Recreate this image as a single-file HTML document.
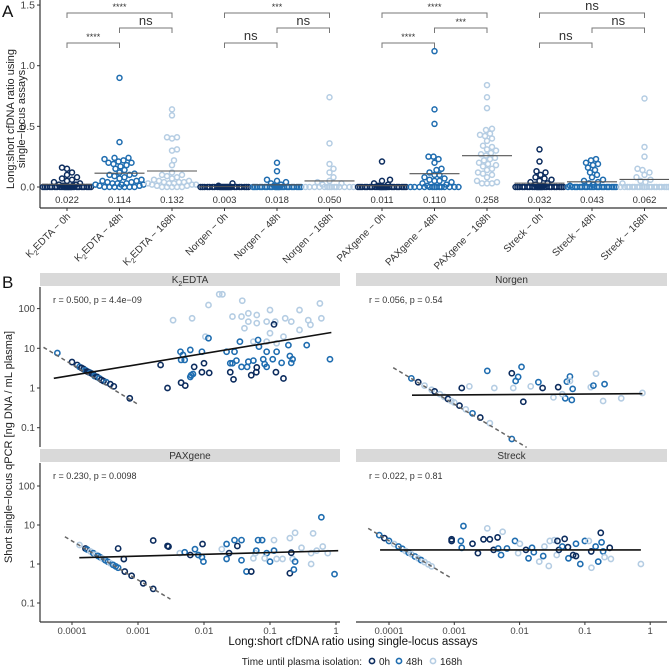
<!DOCTYPE html>
<html><head><meta charset="utf-8"><style>
body{margin:0;background:#fff}
svg{display:block;font-family:"Liberation Sans",sans-serif}
</style></head><body>
<svg id="fig" width="669" height="668" viewBox="0 0 669 668">
<text x="2" y="17" font-size="17" fill="#111">A</text>
<text x="2" y="288" font-size="17" fill="#111">B</text>
<g id="A"></g>
<g id="B"></g>
</svg>
<script>
// ---------- Panel A data ----------
const catsA = ["0h","48h","168h","0h","48h","168h","0h","48h","168h","0h","48h","168h"];
const tubesA = ["K2EDTA","K2EDTA","K2EDTA","Norgen","Norgen","Norgen","PAXgene","PAXgene","PAXgene","Streck","Streck","Streck"];
const meansA = [0.022,0.114,0.132,0.003,0.018,0.050,0.011,0.110,0.258,0.032,0.043,0.062];
const meanLabelsA = ["0.022","0.114","0.132","0.003","0.018","0.050","0.011","0.110","0.258","0.032","0.043","0.062"];
const yTicksA = [0,0.5,1.0,1.5];
const yTickLabelsA = ["0.0","0.5","1.0","1.5"];
const valsA = [
 [0.16,0.15,0.12,0.1,0.08,0.07,0.06,0.05,0.04,0.03,0.02,0.02,0.01,0.01,0,0,0,0,0,0,0,0,0,0,0,0,0,0,0,0,0,0,0,0,0,0,0,0,0,0],
 [0.9,0.37,0.24,0.24,0.23,0.22,0.21,0.2,0.2,0.19,0.18,0.17,0.15,0.14,0.12,0.11,0.1,0.1,0.09,0.08,0.07,0.06,0.05,0.05,0.04,0.04,0.03,0.03,0.03,0.02,0.02,0.02,0.01,0.01,0,0,0,0,0,0,0],
 [0.64,0.59,0.41,0.41,0.40,0.31,0.3,0.22,0.18,0.12,0.1,0.1,0.09,0.08,0.07,0.06,0.05,0.05,0.04,0.04,0.04,0.03,0.03,0.03,0.02,0.02,0.02,0.01,0.01,0,0,0,0,0],
 [0.03,0.01,0,0,0,0,0,0,0,0,0,0,0,0,0,0,0,0,0,0,0,0,0,0,0,0,0,0,0,0],
 [0.2,0.13,0.06,0.05,0.04,0.03,0.02,0.01,0,0,0,0,0,0,0,0,0,0,0,0,0,0,0,0,0,0,0,0,0,0,0,0],
 [0.74,0.36,0.19,0.15,0.12,0.08,0.05,0.04,0.03,0.02,0,0,0,0,0,0,0,0,0,0,0,0,0,0],
 [0.21,0.06,0.05,0.03,0.02,0.01,0,0,0,0,0,0,0,0,0,0,0,0,0,0,0,0,0,0,0,0,0,0,0,0,0,0],
 [1.12,0.64,0.52,0.25,0.25,0.23,0.2,0.15,0.14,0.12,0.1,0.1,0.08,0.07,0.06,0.05,0.05,0.04,0.03,0.02,0.01,0,0,0,0,0,0,0,0,0,0,0,0,0,0],
 [0.84,0.74,0.65,0.48,0.47,0.44,0.43,0.42,0.4,0.38,0.34,0.33,0.31,0.3,0.28,0.27,0.26,0.24,0.23,0.22,0.2,0.19,0.18,0.17,0.15,0.14,0.12,0.11,0.1,0.08,0.05,0.04,0.03,0.03,0.03],
 [0.31,0.21,0.13,0.12,0.1,0.08,0.07,0.06,0.05,0.04,0.03,0.02,0.01,0,0,0,0,0,0,0,0,0,0,0,0,0,0,0,0,0,0,0,0,0,0,0,0,0],
 [0.23,0.22,0.2,0.19,0.18,0.16,0.14,0.12,0.1,0.08,0.06,0.05,0.04,0.03,0.02,0.01,0,0,0,0,0,0,0,0,0,0,0,0,0,0,0,0,0,0,0,0],
 [0.73,0.33,0.25,0.15,0.14,0.12,0.1,0.08,0.06,0.05,0.04,0.03,0,0,0,0,0,0,0,0,0,0,0,0,0,0,0,0,0,0,0,0]
];
const bracketPairs = [[0,2],[1,2],[0,1],[3,5],[4,5],[3,4],[6,8],[7,8],[6,7],[9,11],[10,11],[9,10]];
const bracketLabels = ["****","ns","****","***","ns","ns","****","***","****","ns","ns","ns"];

// ---------- Panel B data (facet: K2EDTA, Norgen, PAXgene, Streck) ----------
const facetNames = ["K2EDTA","Norgen","PAXgene","Streck"];
const facetStats = ["r = 0.500, p = 4.4e−09","r = 0.056, p = 0.54","r = 0.230, p = 0.0098","r = 0.022, p = 0.81"];
const xTicksB = [0.0001,0.001,0.01,0.1,1];
const xTickLabelsB = ["0.0001","0.001","0.01","0.1","1"];
const yTicksB = [100,10,1,0.1];
const yTickLabelsB = ["100","10","1","0.1"];
const timeLabels = ["0h","48h","168h"];
// K2EDTA
const k2X = [6e-5,1.0e-4,1.2e-4,1.3e-4,1.4e-4,1.5e-4,1.6e-4,1.7e-4,1.8e-4,1.9e-4,2.0e-4,2.1e-4,2.2e-4,2.4e-4,2.6e-4,2.8e-4,3.0e-4,3.3e-4,3.8e-4,4.3e-4,7.5e-4,
 0.0034,0.0066,0.0117,0.017,0.019,0.0105,0.038,0.027,0.037,0.047,0.047,0.063,0.063,0.1,0.089,0.12,0.17,0.21,0.28,0.38,0.41,0.57,0.6,0.041,0.056,0.089,0.1,0.126,0.16,0.28,
 0.0044,0.0048,0.0045,0.0051,0.0062,0.0093,0.022,0.029,0.035,0.066,0.068,0.089,0.126,0.19,0.2,0.22,0.21,0.15,0.11,0.079,0.083,0.089,0.056,0.047,0.037,0.045,0.027,0.025,0.031,0.0064,0.0062,0.0068,0.36,0.81,0.0117,
 0.0022,0.0028,0.0045,0.0052,0.0071,0.0093,0.01,0.012,0.025,0.028,0.052,0.062,0.063,0.123,0.16,0.115];
const k2Y = [7.6,4.5,3.8,3.4,3.2,3.0,2.8,2.6,2.5,2.4,2.3,2.2,2.0,1.9,1.75,1.6,1.5,1.4,1.25,1.1,0.55,
 51,57,123,229,229,19.6,158,63,63,76,47,69,43,92,47,47,57,47,92,51,39,135,57,32,14.7,14.7,24,13.4,19.6,29,
 8.2,6.8,5.1,5.1,9.1,8.2,8.2,8.2,14.7,16.2,11,8.2,8.2,12,6.4,5.3,4.3,4.3,5.3,5.3,4,3.4,4.9,4.6,3.4,3.4,4.2,4.2,4.9,2.1,1.9,2.25,12,5.3,18,
 3.8,1.0,1.36,1.15,3.4,2.5,4.2,2.4,2.5,1.65,2.1,2.5,3.3,2.5,1.74,40];
const k2T = [1,0,0,1,0,0,1,0,0,1,0,0,1,0,1,0,0,1,0,0,0,
 2,2,2,2,2,2,2,2,2,2,2,2,2,2,2,2,2,2,2,2,2,2,2,2,2,2,2,2,2,2,
 1,1,1,1,1,1,1,1,1,1,1,1,1,1,1,1,1,1,1,1,1,1,1,1,1,1,1,1,1,1,1,1,1,1,1,
 0,0,0,0,0,0,0,0,0,0,0,0,0,0,0,0];
// Norgen
const noX = [2.2e-4,2.8e-4,3.5e-4,4.5e-4,5e-4,6e-4,7e-4,8e-4,9e-4,1.0e-3,1.2e-3,1.5e-3,1.9e-3,2.5e-3,3.5e-3,7.6e-3,
 0.0032,0.0076,0.0107,0.0095,0.0087,0.0013,0.0017,0.0041,0.008,0.0114,0.0148,0.0194,0.0225,0.033,0.039,0.05,0.053,0.059,0.059,0.065,0.063,0.123,0.135,0.148,0.2,0.19,0.36,0.76,0.045];
const noY = [1.75,1.4,1.15,0.9,0.82,0.7,0.6,0.53,0.47,0.43,0.36,0.29,0.23,0.18,0.13,0.052,
 2.7,2.35,3.4,1.9,1.5,1.0,1.1,1.0,1.0,0.45,1.1,1.4,1.0,0.58,1.05,0.55,1.45,1.95,1.5,0.95,0.5,1.05,1.15,2.3,1.25,0.47,0.55,0.75,0.7];
const noT = [1,0,2,2,0,2,2,0,2,2,0,2,1,0,2,1,
 1,0,1,1,1,0,2,2,2,0,2,1,0,2,0,1,1,1,2,1,1,2,1,2,1,2,2,2,2];
// PAXgene
const paX = [1.3e-4,1.6e-4,1.7e-4,1.9e-4,2.1e-4,2.3e-4,2.5e-4,2.7e-4,2.9e-4,3.2e-4,3.5e-4,3.8e-4,4.2e-4,4.6e-4,5e-4,
 6.1e-4,6.3e-4,8e-4,0.0012,0.0017,0.0005,0.0017,0.0028,0.0029,
 0.0043,0.0051,0.0062,0.0073,0.0082,0.0093,0.0098,0.0095,0.0186,0.022,0.024,0.022,0.029,0.032,0.037,0.037,0.044,0.052,0.06,0.066,0.076,0.062,0.089,0.1,0.115,0.126,0.155,0.22,0.2,0.23,0.24,0.21,0.51,0.6,0.95,0.45,0.24,0.2,0.115,0.42,0.3,0.63,0.75,0.42,0.083,0.056];
const paY = [3.07,2.5,2.35,2.1,1.9,1.73,1.6,1.48,1.38,1.25,1.14,1.05,0.95,0.87,0.8,
 1.34,0.64,0.5,0.32,0.23,2.5,4.0,2.9,2.8,
 1.9,2.0,1.7,2.4,1.7,1.5,1.15,3.25,2.4,3.25,1.9,1.35,4.1,2.9,4.1,1.25,0.64,0.64,1.9,4.1,4.1,2.2,1.9,1.15,2.2,1.35,1.35,1.35,0.58,0.72,1.15,1.95,2.2,15.8,0.55,6.1,6.3,4.6,4.1,1.9,2.6,2.8,1.9,1.0,1.4,1.4];
const paT = [2,0,1,2,1,2,1,1,2,1,1,2,1,1,1,
 0,0,0,0,0,0,0,0,0,
 2,1,0,1,1,1,1,0,2,1,0,1,1,0,1,1,1,0,2,1,1,1,1,1,1,2,2,2,0,1,1,0,2,1,1,2,2,2,2,2,2,2,2,2,2,2];
// Streck
const stX = [7.1e-5,8.5e-5,1.0e-4,1.2e-4,1.4e-4,1.6e-4,1.8e-4,2.0e-4,2.2e-4,2.5e-4,2.8e-4,3.1e-4,3.5e-4,4.0e-4,4.5e-4,
 0.00091,0.00091,0.00126,0.00138,0.0013,0.0019,0.0023,0.0028,0.0035,0.0032,0.0046,0.0055,0.004,0.0047,0.0052,0.0064,0.0085,0.0101,0.0095,0.0125,0.0137,0.0155,0.0165,0.02,0.023,0.024,0.028,0.029,0.034,0.037,0.038,0.04,0.045,0.049,0.055,0.056,0.066,0.073,0.073,0.085,0.1,0.115,0.125,0.126,0.146,0.16,0.175,0.18,0.19,0.2,0.24,0.25,0.72];
const stY = [5.5,4.6,3.9,3.25,2.8,2.45,2.15,1.95,1.78,1.56,1.4,1.26,1.12,0.98,0.87,
 4.3,3.9,3.9,9.4,2.6,3.3,1.9,4.3,4.3,8.2,4.8,6.7,2.3,2.5,1.7,2.5,3.9,3.3,1.9,2.3,1.4,2.6,2.0,1.15,1.6,2.8,0.89,3.9,4.1,1.7,3.9,2.3,2.8,4.4,2.7,1.4,1.7,3.3,1.6,1.0,3.9,3.9,2.1,0.8,2.8,1.15,6.3,3.6,2.1,1.5,2.6,1.35,1.0];
const stT = [1,0,1,2,1,1,2,1,2,1,2,1,2,2,2,
 0,0,1,1,1,0,0,0,0,2,0,2,0,1,1,1,1,2,2,0,1,1,1,2,1,2,2,2,2,2,0,0,1,0,0,1,0,1,0,1,1,2,0,2,1,1,0,1,1,2,0,2,2];
// regression line endpoints [x1,y1,x2,y2]
const solidLines = [[5.3e-5,1.75,0.85,25],[2.25e-4,0.66,0.76,0.72],[1.29e-4,1.45,1.08,2.19],[7.3e-5,2.3,0.72,2.3]];
const dashLines = [[3.7e-5,10.6,0.00105,0.37],[1.16e-4,3.25,0.0128,0.032],[7.8e-5,5.0,0.0031,0.126],[4.8e-5,8.2,9.1e-4,0.43]];

const colors = ["#0c2c5e","#1f6db0","#b5cde3"];
const NS = "http://www.w3.org/2000/svg";
function mk(parent, tag, attrs, text){
  const e = document.createElementNS(NS, tag);
  for (const k in attrs) e.setAttribute(k, attrs[k]);
  if (text !== undefined) e.textContent = text;
  parent.appendChild(e); return e;
}

// ---------- Panel A ----------
const A = document.getElementById('A');
const ax0 = 40, axR = 667, axB = 208;
const xA = i => 67 + i * 52.5;
const yA = v => 187 - 121.3 * v;
let e = mk(A,'line',{x1:ax0,y1:0,x2:ax0,y2:axB,stroke:'#333','stroke-width':1.2});
 
e = mk(A,'line',{x1:ax0,y1:axB,x2:axR,y2:axB,stroke:'#333','stroke-width':1.2});
 
yTicksA.forEach((t,i)=>{
  mk(A,'line',{x1:ax0-3,y1:yA(t),x2:ax0,y2:yA(t),stroke:'#333'});
  const tl = mk(A,'text',{x:ax0-5,y:yA(t)+3.5,'text-anchor':'end','font-size':10.5,fill:'#444'}, yTickLabelsA[i]);
   
});
const yt = mk(A,'text',{transform:'translate(14,119) rotate(-90)','text-anchor':'middle','font-size':11,fill:'#222'});
 
mk(yt,'tspan',{x:0,y:0},'Long:short cfDNA ratio using');
mk(yt,'tspan',{x:0,y:11},'single−locus assays');

valsA.forEach((vals,gi)=>{
  const cx = xA(gi);
  const g = mk(A,'g',{});
  
  
  const placed = [];
  const sorted = vals.slice().sort((a,b)=>a-b);
  sorted.forEach(v=>{
    const cy = yA(v);
    let best = 0, bestScore = -1;
    for (let k=0;k<=50;k++){
      const off = (k%2? 1:-1) * Math.ceil(k/2);
      if (Math.abs(off) > 24) continue;
      let md = 99;
      placed.forEach(p=>{ const d = Math.hypot(p[0]-off, p[1]-cy); if (d<md) md=d; });
      if (md >= 5) { best = off; bestScore = 99; break; }
      if (md > bestScore) { bestScore = md; best = off; }
    }
    placed.push([best,cy]);
    const c = mk(g,'circle',{cx:cx+best,cy:cy,r:2.5,fill:'none',stroke:colors[gi%3],'stroke-width':1.5});
    
    
  });
  const ml = mk(A,'line',{x1:cx-25,y1:yA(meansA[gi]),x2:cx+25,y2:yA(meansA[gi]),stroke:'#555','stroke-width':1.1});
   
  const mt = mk(A,'text',{x:cx,y:203,'text-anchor':'middle','font-size':9.5,fill:'#333'}, meanLabelsA[gi]);
   
  mk(A,'line',{x1:cx,y1:axB,x2:cx,y2:axB+3,stroke:'#333'});
  const xl = mk(A,'text',{transform:`translate(${cx+4},${axB+9}) rotate(-45)`,'text-anchor':'end','font-size':10,fill:'#333'});
   
  if (tubesA[gi]==='K2EDTA'){
    mk(xl,'tspan',{},'K');
    mk(xl,'tspan',{'font-size':7,dy:3},'2');
    mk(xl,'tspan',{dy:-3},'EDTA − '+catsA[gi]);
  } else xl.textContent = tubesA[gi]+' − '+catsA[gi];
});
bracketPairs.forEach((p,i)=>{
  const level = i%3; const y = [13,28,43][level];
  const x1 = xA(p[0]), x2 = xA(p[1]);
  const b = mk(A,'path',{d:`M${x1},${y+5}V${y}H${x2}V${y+5}`,fill:'none',stroke:'#777','stroke-width':1});
   
  const ns = bracketLabels[i]==='ns';
  const t = mk(A,'text',{x:(x1+x2)/2,y:y-3,'text-anchor':'middle','font-size':ns?13:9,fill:'#333'}, bracketLabels[i]);
   
});

// ---------- Panel B ----------
const B = document.getElementById('B');
const panels = [
  {x0:40,x1:340,top:273,bot:447,xs:k2X,ys:k2Y,ts:k2T,tx:72,td:66,ty:388,yd:39.7},
  {x0:356,x1:667,top:273,bot:447,xs:noX,ys:noY,ts:noT,tx:389,td:65.3,ty:388,yd:39.7},
  {x0:40,x1:340,top:449,bot:622,xs:paX,ys:paY,ts:paT,tx:72,td:66,ty:564,yd:39},
  {x0:356,x1:667,top:449,bot:622,xs:stX,ys:stY,ts:stT,tx:389,td:65.3,ty:564,yd:39}
];
panels.forEach((P,pi)=>{
  const fx = v => P.tx + P.td*(Math.log10(v)+4);
  const fy = v => P.ty - P.yd*Math.log10(v);
  const g = mk(B,'g',{});
  
  
  const s = mk(g,'rect',{x:P.x0,y:P.top,width:P.x1-P.x0,height:13,fill:'#d9d9d9'});
   
  const st = mk(g,'text',{x:(P.x0+P.x1)/2,y:P.top+10,'text-anchor':'middle','font-size':10,fill:'#333'});
   
  if (pi===0){ mk(st,'tspan',{},'K'); mk(st,'tspan',{'font-size':7,dy:3},'2'); mk(st,'tspan',{dy:-3},'EDTA'); }
  else st.textContent = facetNames[pi];
  const rt = mk(g,'text',{x:P.x0+13,y:P.top+30,'font-size':9,fill:'#333'}, facetStats[pi]);
   
  if (pi%2===0){
    mk(g,'line',{x1:40,y1:P.top+14,x2:40,y2:P.bot,stroke:'#333','stroke-width':1.2});
    yTicksB.forEach((t,i)=>{
      mk(g,'line',{x1:37,y1:fy(t),x2:40,y2:fy(t),stroke:'#333'});
      const tl = mk(g,'text',{x:35,y:fy(t)+3.5,'text-anchor':'end','font-size':10,fill:'#444'}, yTickLabelsB[i]);
       
    });
  }
  if (pi>=2){
    mk(g,'line',{x1:P.x0,y1:622,x2:P.x1,y2:622,stroke:'#333','stroke-width':1.2});
    xTicksB.forEach((t,i)=>{
      mk(g,'line',{x1:fx(t),y1:622,x2:fx(t),y2:625,stroke:'#333'});
      const tl = mk(g,'text',{x:fx(t),y:634,'text-anchor':'middle','font-size':9.5,fill:'#444'}, xTickLabelsB[i]);
       
    });
  }
  P.xs.forEach((xv,i)=>{
    const c = mk(g,'circle',{cx:fx(xv),cy:fy(P.ys[i]),r:2.6,fill:'none',stroke:colors[P.ts[i]],'stroke-width':1.6});
    
    
  });
  const dl = dashLines[pi];
  const d = mk(g,'line',{x1:fx(dl[0]),y1:fy(dl[1]),x2:fx(dl[2]),y2:fy(dl[3]),stroke:'#666','stroke-width':1.5,'stroke-dasharray':'4,3'});
   
  const sl = solidLines[pi];
  const l = mk(g,'line',{x1:fx(sl[0]),y1:fy(sl[1]),x2:fx(sl[2]),y2:fy(sl[3]),stroke:'#111','stroke-width':1.6});
   
});
let t = mk(B,'text',{x:353,y:645,'text-anchor':'middle','font-size':11.5,fill:'#111'},'Long:short cfDNA ratio using single-locus assays');
 
t = mk(B,'text',{transform:'translate(12,447) rotate(-90)','text-anchor':'middle','font-size':11,fill:'#222'},'Short single−locus qPCR [ng DNA / mL plasma]');
 
// legend
const lg = mk(B,'g',{});
 
t = mk(lg,'text',{x:362,y:665,'text-anchor':'end','font-size':10,fill:'#222'},'Time until plasma isolation:');
 
const legX = [372,399,433];
timeLabels.forEach((lab,i)=>{
  const c = mk(lg,'circle',{cx:legX[i],cy:661,r:2.6,fill:'none',stroke:colors[i],'stroke-width':1.6});
   
  const tt = mk(lg,'text',{x:legX[i]+7,y:665,'font-size':10,fill:'#222'},lab);
   
});
</script>
</body></html>
